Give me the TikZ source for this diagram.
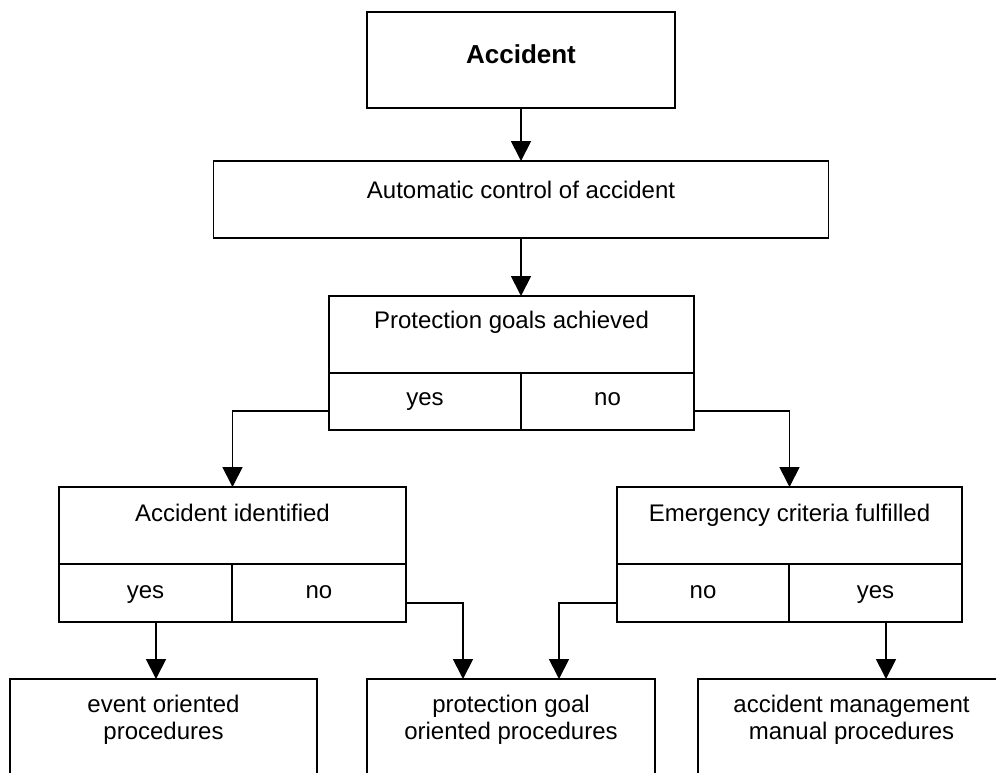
\documentclass[tikz,border=0pt]{standalone}
\usepackage{fontspec}
\setmainfont{Liberation Sans}
\usetikzlibrary{arrows.meta}
\begin{document}
\begin{tikzpicture}[x=1pt,y=-1pt,
  every node/.style={font=\fontsize{24}{27}\selectfont, inner sep=0pt, outer sep=0pt},
  box/.style={draw, line width=1.8pt, rectangle},
  lbl/.style={align=center},
  arr/.style={line width=1.8pt, -{Triangle[length=20pt,width=20pt]}}
]
\useasboundingbox (0,0) rectangle (996,772);
\clip (0,0) rectangle (996,772);

% start event
\node[box, minimum width=308pt, text height=51pt, text depth=45pt, anchor=north west,
      font=\fontsize{26}{30}\selectfont\bfseries] (acc) at (367,12) {Accident};

\node[box, minimum width=615pt, text height=37pt, text depth=40pt, anchor=north west]
  (auto) at (213.5,161) {Automatic control of accident};

% first decision
\node[box, minimum width=365pt, text height=32pt, text depth=45pt, anchor=north west]
  (prot) at (329,296) {Protection goals achieved};
\node[box, minimum width=192pt, text height=32pt, text depth=25pt, anchor=north west]
  (pyes) at (prot.south west) {yes};
\node[box, minimum width=173pt, text height=32pt, text depth=25pt, anchor=north east]
  (pno) at (prot.south east) {no};

% left decision
\node[box, minimum width=347pt, text height=34pt, text depth=43pt, anchor=north west]
  (aid) at (59,487) {Accident identified};
\node[box, minimum width=173pt, text height=34pt, text depth=24pt, anchor=north west]
  (ayes) at (aid.south west) {yes};
\node[box, minimum width=174pt, text height=34pt, text depth=24pt, anchor=north east]
  (ano) at (aid.south east) {no};

% right decision
\node[box, minimum width=345pt, text height=34pt, text depth=43pt, anchor=north west]
  (emc) at (617,487) {Emergency criteria fulfilled};
\node[box, minimum width=172pt, text height=34pt, text depth=24pt, anchor=north west]
  (eno) at (emc.south west) {no};
\node[box, minimum width=173pt, text height=34pt, text depth=24pt, anchor=north east]
  (eyes) at (emc.south east) {yes};

% procedure boxes (running off the lower edge)
\node[box, minimum width=307pt, minimum height=140pt, anchor=north west] (evbox) at (10,679) {};
\node[lbl, anchor=north] (evtxt) at ([yshift=-16.5pt]evbox.north) {event oriented\\procedures};

\node[box, minimum width=288pt, minimum height=140pt, anchor=north west] (pgbox) at (367,679) {};
\node[lbl, anchor=north] (pgtxt) at ([yshift=-16.5pt]pgbox.north) {protection goal\\oriented procedures};

\node[box, minimum width=307pt, minimum height=140pt, anchor=north west] (ambox) at (698,679) {};
\node[lbl, anchor=north] (amtxt) at ([yshift=-16.5pt]ambox.north) {accident management\\manual procedures};

% connectors
\draw[arr] (acc.south) -- (auto.north);
\draw[arr] (auto.south) -- (auto.south |- prot.north);
\draw[arr] ([yshift=-9.5pt]pyes.west) -| (aid.north);
\draw[arr] ([yshift=-9.5pt]pno.east) -| (emc.north);
\draw[arr] ([xshift=10.5pt]ayes.south) -- ([xshift=10.5pt]ayes.south |- evbox.north);
\draw[arr] ([yshift=-10pt]ano.east) -| ([xshift=-48pt]pgbox.north);
\draw[arr] ([yshift=-10pt]eno.west) -| ([xshift=48pt]pgbox.north);
\draw[arr] ([xshift=10.5pt]eyes.south) -- ([xshift=10.5pt]eyes.south |- ambox.north);
\end{tikzpicture}
\end{document}
